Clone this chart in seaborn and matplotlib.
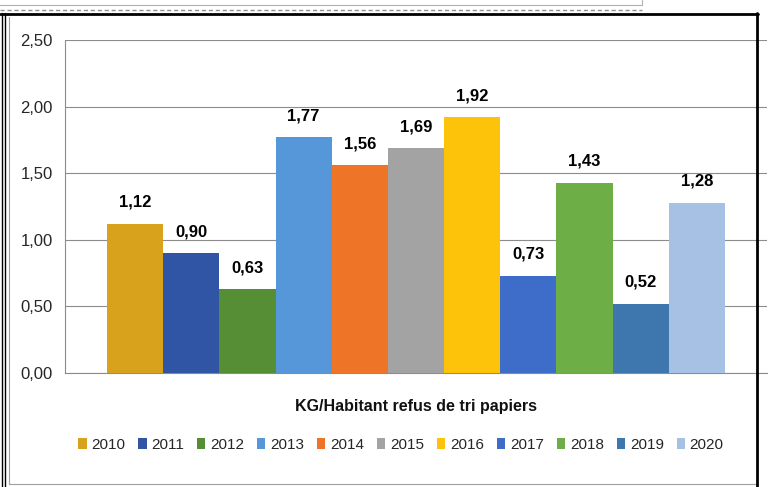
import numpy as np
import pandas as pd
import matplotlib
matplotlib.use("Agg")
import matplotlib.pyplot as plt
from matplotlib.ticker import FuncFormatter, MultipleLocator
import seaborn as sns

# --- data ---
years = ['2010', '2011', '2012', '2013', '2014', '2015',
         '2016', '2017', '2018', '2019', '2020']
values = [1.12, 0.90, 0.63, 1.77, 1.56, 1.69, 1.92, 0.73, 1.43, 0.52, 1.28]
colors = ['#D8A21C', '#2F55A4', '#558E34', '#5597D8', '#EE7427', '#A3A3A3',
          '#FCC30A', '#3D6CC9', '#6DAE46', '#3E77AE', '#A7C1E4']
title = 'KG/Habitant refus de tri papiers'

sns.set_style('white')
plt.rcParams['font.family'] = ['Liberation Sans', 'DejaVu Sans']

W, H = 771, 487
fig = plt.figure(figsize=(W / 100, H / 100), dpi=100)
ax = fig.add_axes([65 / W, 1 - 373 / H, (767 - 65) / W, (373 - 40) / H])

df = pd.DataFrame({'serie': [''] * len(years), 'annee': years, 'valeur': values})
sns.barplot(data=df, x='serie', y='valeur', hue='annee', hue_order=years,
            palette=colors, saturation=1, width=0.88, gap=0, ax=ax,
            linewidth=0, edgecolor='none', zorder=3)

ax.set_xlim(-0.5, 0.5)
ax.set_ylim(0, 2.5)
ax.yaxis.set_major_locator(MultipleLocator(0.5))
ax.yaxis.set_major_formatter(FuncFormatter(lambda v, p: f"{v:.2f}".replace('.', ',')))
ax.set_xticks([-0.5, 0.5])
ax.set_xticklabels(['', ''])
ax.set_xlabel('')
ax.set_ylabel('')

grid_c = '#8C8C8C'
ax.grid(axis='y', color=grid_c, linewidth=0.8, zorder=0)
ax.set_axisbelow(True)
for s in ['top', 'right']:
    ax.spines[s].set_visible(False)
for s in ['left', 'bottom']:
    ax.spines[s].set_color(grid_c)
    ax.spines[s].set_linewidth(0.8)
ax.tick_params(axis='y', length=4, width=0.8, color=grid_c, pad=5, labelsize=12, labelcolor='#262626')
ax.tick_params(axis='x', length=5, width=0.8, color=grid_c, direction='out')

# value labels above each bar
for cont, v in zip(ax.containers, values):
    ax.bar_label(cont, labels=[f"{v:.2f}".replace('.', ',')], padding=10,
                 fontsize=12, fontweight='bold', color='black')

handles, labels = ax.get_legend_handles_labels()
ax.legend_.remove()
fig.legend(handles, labels, ncol=len(years), loc='center',
           bbox_to_anchor=(401 / W, 1 - 445 / H), frameon=False,
           handlelength=0.55, handleheight=0.75, handletextpad=0.3,
           columnspacing=0.85, fontsize=11, labelcolor='#262626')

fig.text(416 / W, 1 - 406 / H, title, ha='center', va='center',
         fontsize=11.5, fontweight='bold', color='#111111')

# frame decorations around the chart (screenshot borders)
ov = fig.add_axes([0, 0, 1, 1], zorder=10)
ov.set_xlim(0, W)
ov.set_ylim(H, 0)
ov.axis('off')
ov.patch.set_alpha(0)
ov.plot([0, 642], [5, 5], color='#B0B0B0', lw=0.8)
ov.plot([642, 642], [0, 5], color='#B0B0B0', lw=0.8)
ov.plot([0, 642], [9.5, 9.5], color='#909090', lw=1.0, ls=(0, (3, 2)))
ov.plot([0, 758], [13.5, 13.5], color='black', lw=2.0)
ov.plot([1.5, 1.5], [13, H], color='black', lw=1.0)
ov.plot([4.5, 4.5], [13, H], color='black', lw=1.0)
ov.plot([9, 9], [17, 484], color='#A0A0A0', lw=0.8)
ov.plot([9, 757], [484, 484], color='#A0A0A0', lw=0.8)
ov.plot([757, 757], [13, H], color='black', lw=2.0)

fig.savefig('out.png', dpi=100)
